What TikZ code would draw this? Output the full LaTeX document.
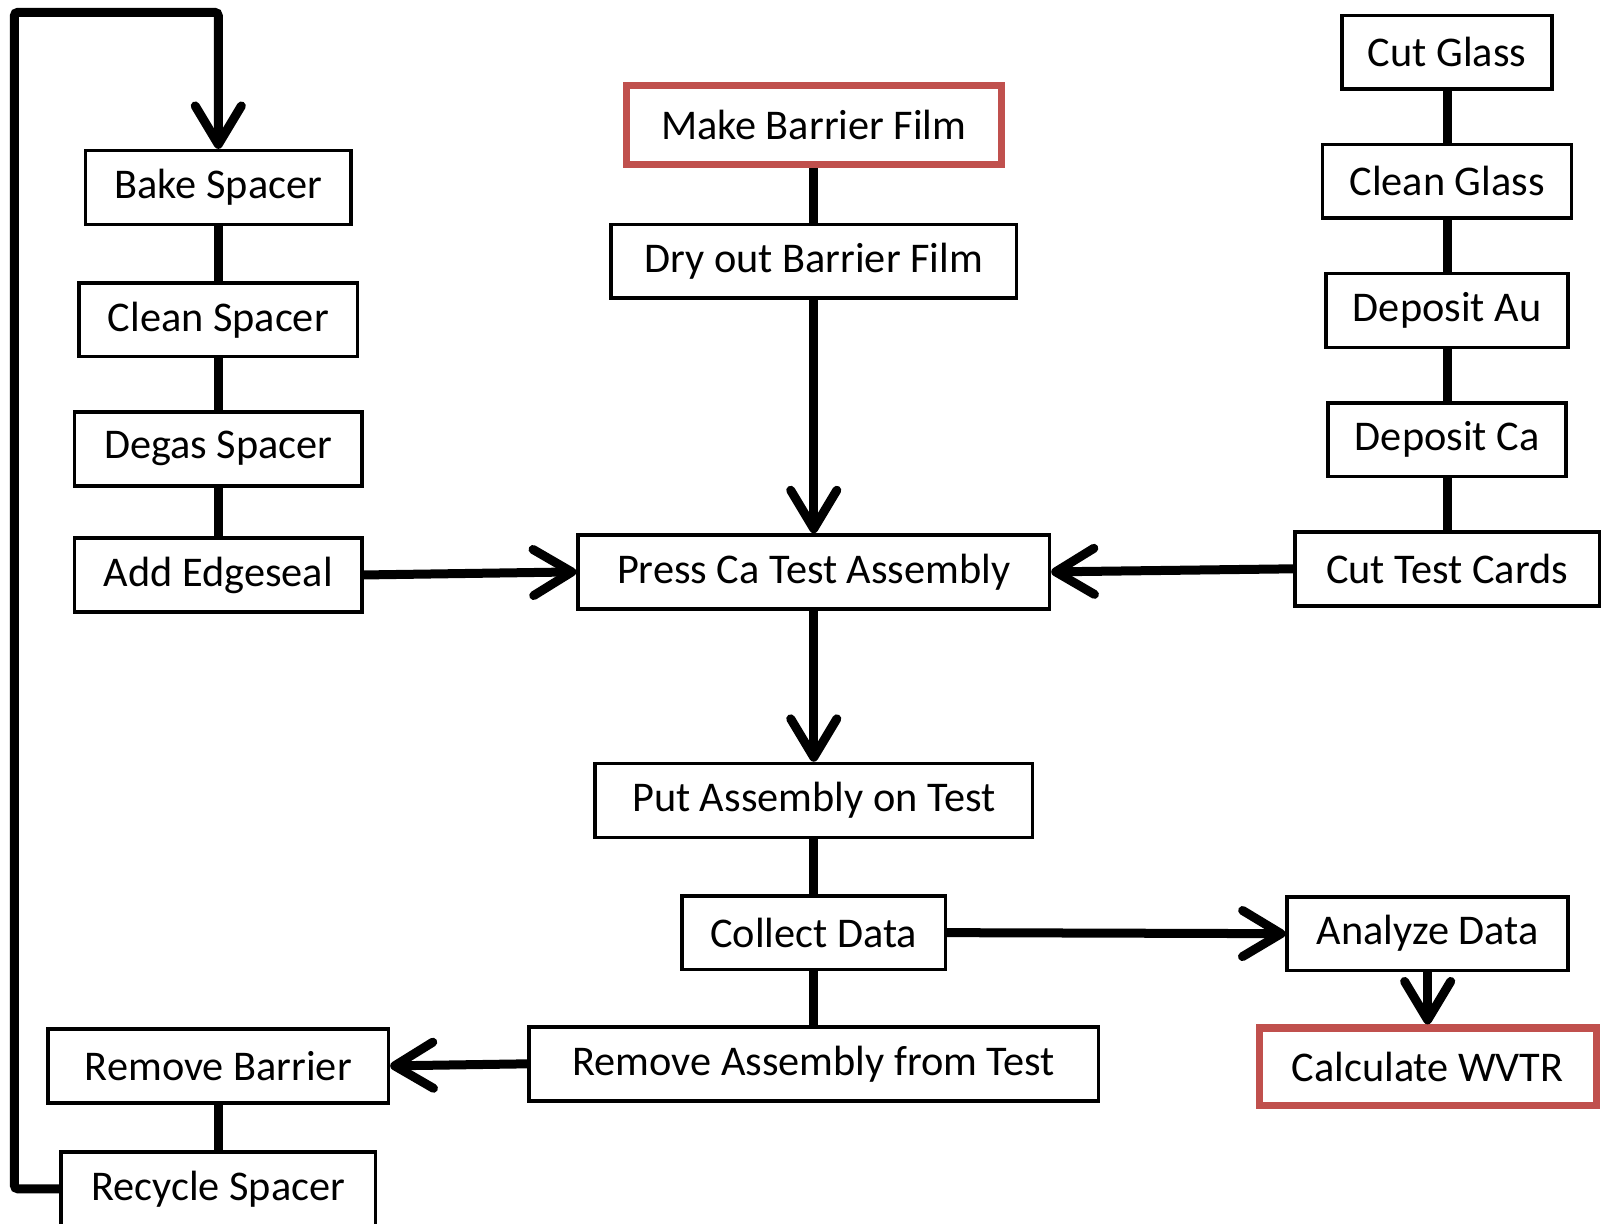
\documentclass[tikz,border=0pt]{standalone}
\usepackage{fontspec}
\setmainfont{Carlito}
\usepackage{xcolor}
\usetikzlibrary{arrows.meta}
\definecolor{boxred}{RGB}{192,80,77}

\begin{document}
\begin{tikzpicture}[x=0.02cm, y=-0.02cm,
	>={Straight Barb[length=7.5mm,width=9mm,round]}]

	\tikzstyle{step box}=[draw,line width=2pt,inner sep=0pt,minimum height=1.44cm,
		font=\fontsize{23.5}{28}\selectfont]
	\tikzstyle{goal box}=[step box,draw=boxred,line width=4pt]
	\tikzstyle{flow}=[line width=5pt]
	\useasboundingbox (0,0) rectangle (1568,1194);

	% spacer column
	\node[step box,minimum width=5.18cm] (bake) at (213,183) {Bake Spacer};
	\node[step box,minimum width=5.44cm] (cleanS) at (213,312) {Clean Spacer};
	\node[step box,minimum width=5.62cm] (degas) at (213,438) {Degas Spacer};
	\node[step box,minimum width=5.62cm] (edge) at (213,561) {Add Edgeseal};
	\node[step box,minimum width=6.64cm] (remB) at (213,1040) {Remove Barrier};
	\node[step box,minimum width=6.14cm] (recycle) at (213,1160) {Recycle Spacer};

	% barrier film column
	\node[goal box,minimum width=7.32cm,minimum height=1.54cm] (make) at (794,122) {Make Barrier Film};
	\node[step box,minimum width=7.92cm] (dry) at (794,255) {Dry out Barrier Film};
	\node[step box,minimum width=9.2cm] (press) at (794,558) {Press Ca Test Assembly};
	\node[step box,minimum width=8.54cm] (put) at (794,781) {Put Assembly on Test};
	\node[step box,minimum width=5.14cm] (collect) at (794,910) {Collect Data};
	\node[step box,minimum width=11.12cm] (remA) at (794,1038) {Remove Assembly from Test};

	% glass column
	\node[step box,minimum width=4.1cm] (cutG) at (1412,51) {Cut Glass};
	\node[step box,minimum width=4.86cm] (cleanG) at (1412,177) {Clean Glass};
	\node[step box,minimum width=4.72cm] (au) at (1412,303) {Deposit Au};
	\node[step box,minimum width=4.64cm] (ca) at (1412,429) {Deposit Ca};
	\node[step box,minimum width=5.94cm] (cards) at (1412,555) {Cut Test Cards};
	\node[step box,minimum width=5.48cm] (analyze) at (1393,911) {Analyze Data};
	\node[goal box,minimum width=6.58cm,minimum height=1.52cm] (wvtr) at (1393,1041) {Calculate WVTR};

	% plain links
	\draw[flow] (bake) -- (cleanS) -- (degas) -- (edge);
	\draw[flow] (make) -- (dry);
	\draw[flow] (cutG) -- (cleanG) -- (au) -- (ca) -- (cards);
	\draw[flow] (put) -- (collect) -- (remA);
	\draw[flow] (remB) -- (recycle);

	% arrows
	\draw[flow,->] (edge.east) -- (press.west);
	\draw[flow,->] (cards.west) -- (press.east);
	\draw[flow,->] (dry) -- (press);
	\draw[flow,->] (press) -- (put);
	\draw[flow,->] (collect.east) -- (analyze.west);
	\draw[flow,->] (analyze) -- (wvtr);
	\draw[flow,->] (remA.west) -- (remB.east);

	% recycle loop
	\coordinate (loopA) at (14,1160);
	\coordinate (loopB) at (14,12);
	\coordinate (loopC) at (213,12);
	\draw[flow,->,rounded corners=2pt] (recycle.west) -- (loopA) -- (loopB) -- (loopC) -- (bake.north);

\end{tikzpicture}
\end{document}
